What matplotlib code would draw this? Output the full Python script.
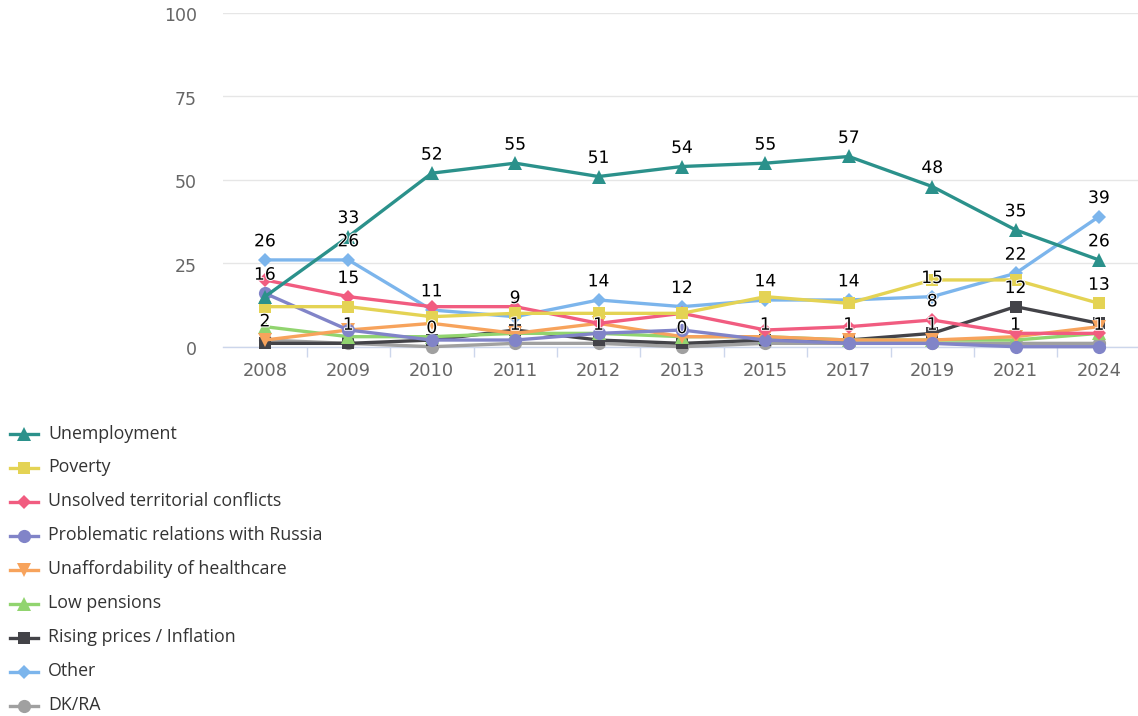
import matplotlib
matplotlib.use("Agg")
import matplotlib.pyplot as plt
from matplotlib.lines import Line2D
from matplotlib.ticker import FixedLocator, NullFormatter
from matplotlib.transforms import ScaledTranslation
import matplotlib.patheffects as pe

# Survey years
years = ["2008", "2009", "2010", "2011", "2012", "2013", "2015", "2017", "2019", "2021", "2024"]

# Share of respondents (%) naming each issue
unemployment = [15, 33, 52, 55, 51, 54, 55, 57, 48, 35, 26]
poverty = [12, 12, 9, 10, 10, 10, 15, 13, 20, 20, 13]
territorial = [20, 15, 12, 12, 7, 10, 5, 6, 8, 4, 4]
russia = [16, 5, 2, 2, 4, 5, 2, 1, 1, 0, 0]
healthcare = [2, 5, 7, 4, 7, 3, 3, 2, 2, 3, 6]
pensions = [6, 3, 3, 4, 4, 3, 3, 2, 2, 2, 4]
inflation = [1, 1, 2, 5, 2, 1, 2, 2, 4, 12, 7]
other = [26, 26, 11, 9, 14, 12, 14, 14, 15, 22, 39]
dk_ra = [2, 1, 0, 1, 1, 0, 1, 1, 1, 1, 1]

series_names = [
    "Unemployment", "Poverty", "Unsolved territorial conflicts",
    "Problematic relations with Russia", "Unaffordability of healthcare",
    "Low pensions", "Rising prices / Inflation", "Other", "DK/RA",
]
series_values = [unemployment, poverty, territorial, russia, healthcare,
                 pensions, inflation, other, dk_ra]

ALL = list(range(len(years)))
# which points carry a value label (others are suppressed where they would collide)
labelled_points = [list(range(1, 11)), [10], [1, 8], [0], [], [], [9], ALL, ALL]

colors = ["#2b918b", "#e4d354", "#f15c80", "#8184c8", "#f7a35c",
          "#91d46f", "#434348", "#7cb5ec", "#a0a0a0"]
markers = ["^", "s", "D", "o", "v", "^", "s", "D", "o"]
msizes = [9.5, 9, 7.4, 9.5, 9.5, 9.5, 9, 7.4, 9.5]

W, H = 1138, 716
fig = plt.figure(figsize=(W / 100, H / 100), dpi=100)
left_px, right_px, top_px, bottom_px = 223.3, 1140.7, 13.0, 346.7
ax = fig.add_axes([left_px / W, 1 - bottom_px / H,
                   (right_px - left_px) / W, (bottom_px - top_px) / H])

x = list(range(len(years)))
for i, (vals, c, m, ms) in enumerate(zip(series_values, colors, markers, msizes)):
    ax.plot(x, vals, color=c, lw=2.4, marker=m, markersize=ms,
            markeredgewidth=0, zorder=20 - i, solid_joinstyle="round",
            solid_capstyle="round", clip_on=False)

label_fx = [pe.withStroke(linewidth=1.4, foreground="white")]
for vals, idxs in zip(series_values, labelled_points):
    for j in idxs:
        ax.annotate(str(vals[j]), (x[j], vals[j]), xytext=(0, 13.4),
                    textcoords="offset points", ha="center", va="center",
                    fontsize=12.3, color="#000000", zorder=50,
                    family="DejaVu Sans", path_effects=label_fx,
                    annotation_clip=False)

ax.set_xlim(-0.5, len(years) - 0.5)
ax.set_ylim(0, 100)

# y axis: gridlines only, labels sitting slightly below their lines
ax.set_yticks([0, 25, 50, 75, 100])
ax.yaxis.grid(True, color="#e6e6e6", lw=1)
ax.tick_params(axis="y", length=0, pad=19, labelsize=12.5, labelcolor="#666666")
nudge = ScaledTranslation(0, -2.5 / 72, fig.dpi_scale_trans)
for lbl in ax.get_yticklabels():
    lbl.set_family("DejaVu Sans")
    lbl.set_verticalalignment("center")
    lbl.set_transform(lbl.get_transform() + nudge)

# x axis: tick marks between categories, labels centred on categories
ax.xaxis.set_major_locator(FixedLocator([k + 0.5 for k in range(len(years) - 1)]))
ax.xaxis.set_major_formatter(NullFormatter())
ax.xaxis.set_minor_locator(FixedLocator(x))
ax.set_xticklabels(years, minor=True)
ax.tick_params(axis="x", which="major", length=7, width=1, color="#ccd6eb", direction="out")
ax.tick_params(axis="x", which="minor", length=0, pad=11, labelsize=12.75, labelcolor="#666666")

for side in ["top", "right", "left"]:
    ax.spines[side].set_visible(False)
ax.spines["bottom"].set_color("#ccd6eb")
ax.spines["bottom"].set_linewidth(1)
ax.spines["bottom"].set_zorder(1)
ax.set_axisbelow(True)

# legend, stacked below the plot
legend_font = ["Open Sans", "DejaVu Sans"]
for i, (name, c, m, ms) in enumerate(zip(series_names, colors, markers, msizes)):
    py = 433.5 + 34.0 * i
    yf = 1 - py / H
    fig.add_artist(Line2D([10 / W, 38 / W], [yf, yf], color=c, lw=2.4,
                          transform=fig.transFigure))
    fig.add_artist(Line2D([24 / W], [yf], color=c, marker=m, markersize=ms,
                          markeredgewidth=0, lw=0, transform=fig.transFigure))
    fig.text(48 / W, yf, name, va="center", ha="left", fontsize=12.8,
             color="#333333", family=legend_font)

fig.savefig("out.png", dpi=100)
